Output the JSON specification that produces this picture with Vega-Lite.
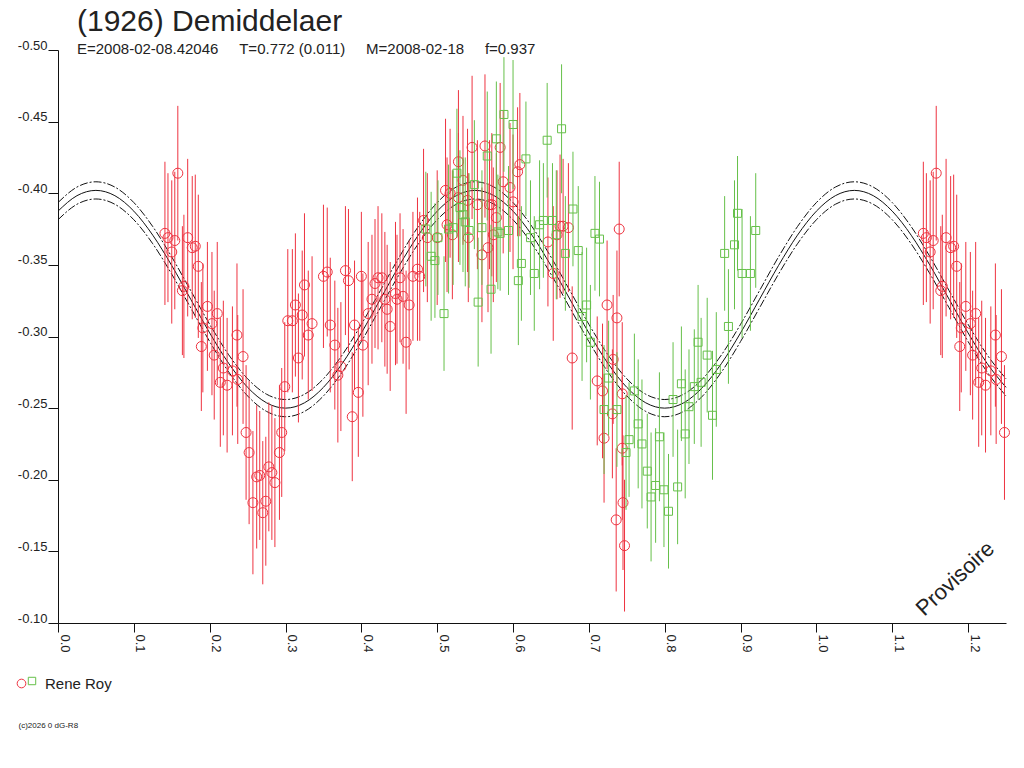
{
  "$schema": "https://vega.github.io/schema/vega-lite/v6.json",
  "autosize": "none",
  "width": 948,
  "height": 573,
  "padding": {"left": 58, "top": 50, "right": 18, "bottom": 145},
  "background": "white",
  "title": {
    "text": "(1926) Demiddelaer",
    "subtitle": "E=2008-02-08.42046\u00a0\u00a0\u00a0\u00a0\u00a0T=0.772 (0.011)\u00a0\u00a0\u00a0\u00a0\u00a0M=2008-02-18\u00a0\u00a0\u00a0\u00a0\u00a0f=0.937",
    "anchor": "start",
    "frame": "group",
    "dx": 19,
    "offset": -18,
    "font": "Liberation Sans",
    "fontSize": 30,
    "fontWeight": "normal",
    "color": "#222222",
    "subtitleFont": "Liberation Sans",
    "subtitleFontSize": 15,
    "subtitleColor": "#222222",
    "subtitlePadding": 5
  },
  "datasets": {
    "model": [
      {"p": 0.000, "c": -0.3875}, {"p": 0.025, "c": -0.3983}, {"p": 0.050, "c": -0.4020}, {"p": 0.075, "c": -0.3983},
      {"p": 0.100, "c": -0.3875}, {"p": 0.125, "c": -0.3707}, {"p": 0.150, "c": -0.3495}, {"p": 0.175, "c": -0.3260},
      {"p": 0.200, "c": -0.3025}, {"p": 0.225, "c": -0.2813}, {"p": 0.250, "c": -0.2645}, {"p": 0.275, "c": -0.2537},
      {"p": 0.300, "c": -0.2500}, {"p": 0.325, "c": -0.2537}, {"p": 0.350, "c": -0.2645}, {"p": 0.375, "c": -0.2813},
      {"p": 0.400, "c": -0.3025}, {"p": 0.425, "c": -0.3260}, {"p": 0.450, "c": -0.3495}, {"p": 0.475, "c": -0.3707},
      {"p": 0.500, "c": -0.3875}, {"p": 0.525, "c": -0.3983}, {"p": 0.550, "c": -0.4020}, {"p": 0.575, "c": -0.3983},
      {"p": 0.600, "c": -0.3875}, {"p": 0.625, "c": -0.3707}, {"p": 0.650, "c": -0.3495}, {"p": 0.675, "c": -0.3260},
      {"p": 0.700, "c": -0.3025}, {"p": 0.725, "c": -0.2813}, {"p": 0.750, "c": -0.2645}, {"p": 0.775, "c": -0.2537},
      {"p": 0.800, "c": -0.2500}, {"p": 0.825, "c": -0.2537}, {"p": 0.850, "c": -0.2645}, {"p": 0.875, "c": -0.2813},
      {"p": 0.900, "c": -0.3025}, {"p": 0.925, "c": -0.3260}, {"p": 0.950, "c": -0.3495}, {"p": 0.975, "c": -0.3707},
      {"p": 1.000, "c": -0.3875}, {"p": 1.025, "c": -0.3983}, {"p": 1.050, "c": -0.4020}, {"p": 1.075, "c": -0.3983},
      {"p": 1.100, "c": -0.3875}, {"p": 1.125, "c": -0.3707}, {"p": 1.150, "c": -0.3495}, {"p": 1.175, "c": -0.3260},
      {"p": 1.200, "c": -0.3025}, {"p": 1.225, "c": -0.2813}, {"p": 1.250, "c": -0.2645}
    ],
    "envelope": [
      {"p": 0.000, "u": -0.3935, "l": -0.3815}, {"p": 0.025, "u": -0.4043, "l": -0.3923}, {"p": 0.050, "u": -0.4080, "l": -0.3960}, {"p": 0.075, "u": -0.4043, "l": -0.3923},
      {"p": 0.100, "u": -0.3935, "l": -0.3815}, {"p": 0.125, "u": -0.3767, "l": -0.3647}, {"p": 0.150, "u": -0.3555, "l": -0.3435}, {"p": 0.175, "u": -0.3320, "l": -0.3200},
      {"p": 0.200, "u": -0.3085, "l": -0.2965}, {"p": 0.225, "u": -0.2873, "l": -0.2753}, {"p": 0.250, "u": -0.2705, "l": -0.2585}, {"p": 0.275, "u": -0.2597, "l": -0.2477},
      {"p": 0.300, "u": -0.2560, "l": -0.2440}, {"p": 0.325, "u": -0.2597, "l": -0.2477}, {"p": 0.350, "u": -0.2705, "l": -0.2585}, {"p": 0.375, "u": -0.2873, "l": -0.2753},
      {"p": 0.400, "u": -0.3085, "l": -0.2965}, {"p": 0.425, "u": -0.3320, "l": -0.3200}, {"p": 0.450, "u": -0.3555, "l": -0.3435}, {"p": 0.475, "u": -0.3767, "l": -0.3647},
      {"p": 0.500, "u": -0.3935, "l": -0.3815}, {"p": 0.525, "u": -0.4043, "l": -0.3923}, {"p": 0.550, "u": -0.4080, "l": -0.3960}, {"p": 0.575, "u": -0.4043, "l": -0.3923},
      {"p": 0.600, "u": -0.3935, "l": -0.3815}, {"p": 0.625, "u": -0.3767, "l": -0.3647}, {"p": 0.650, "u": -0.3555, "l": -0.3435}, {"p": 0.675, "u": -0.3320, "l": -0.3200},
      {"p": 0.700, "u": -0.3085, "l": -0.2965}, {"p": 0.725, "u": -0.2873, "l": -0.2753}, {"p": 0.750, "u": -0.2705, "l": -0.2585}, {"p": 0.775, "u": -0.2597, "l": -0.2477},
      {"p": 0.800, "u": -0.2560, "l": -0.2440}, {"p": 0.825, "u": -0.2597, "l": -0.2477}, {"p": 0.850, "u": -0.2705, "l": -0.2585}, {"p": 0.875, "u": -0.2873, "l": -0.2753},
      {"p": 0.900, "u": -0.3085, "l": -0.2965}, {"p": 0.925, "u": -0.3320, "l": -0.3200}, {"p": 0.950, "u": -0.3555, "l": -0.3435}, {"p": 0.975, "u": -0.3767, "l": -0.3647},
      {"p": 1.000, "u": -0.3935, "l": -0.3815}, {"p": 1.025, "u": -0.4043, "l": -0.3923}, {"p": 1.050, "u": -0.4080, "l": -0.3960}, {"p": 1.075, "u": -0.4043, "l": -0.3923},
      {"p": 1.100, "u": -0.3935, "l": -0.3815}, {"p": 1.125, "u": -0.3767, "l": -0.3647}, {"p": 1.150, "u": -0.3555, "l": -0.3435}, {"p": 1.175, "u": -0.3320, "l": -0.3200},
      {"p": 1.200, "u": -0.3085, "l": -0.2965}, {"p": 1.225, "u": -0.2873, "l": -0.2753}, {"p": 1.250, "u": -0.2705, "l": -0.2585}
    ],
    "red": [
      {"p": 0.158, "m": -0.414, "e": 0.047}, {"p": 0.141, "m": -0.372, "e": 0.050}, {"p": 0.145, "m": -0.369, "e": 0.045},
      {"p": 0.154, "m": -0.367, "e": 0.048}, {"p": 0.150, "m": -0.359, "e": 0.050}, {"p": 0.171, "m": -0.369, "e": 0.055},
      {"p": 0.177, "m": -0.362, "e": 0.050}, {"p": 0.181, "m": -0.363, "e": 0.050}, {"p": 0.185, "m": -0.349, "e": 0.050},
      {"p": 0.164, "m": -0.332, "e": 0.045}, {"p": 0.166, "m": -0.335, "e": 0.050}, {"p": 0.197, "m": -0.321, "e": 0.045},
      {"p": 0.210, "m": -0.316, "e": 0.050}, {"p": 0.191, "m": -0.306, "e": 0.045}, {"p": 0.203, "m": -0.309, "e": 0.050},
      {"p": 0.189, "m": -0.293, "e": 0.045}, {"p": 0.206, "m": -0.287, "e": 0.045}, {"p": 0.236, "m": -0.301, "e": 0.050},
      {"p": 0.218, "m": -0.278, "e": 0.047}, {"p": 0.230, "m": -0.276, "e": 0.045}, {"p": 0.244, "m": -0.286, "e": 0.047},
      {"p": 0.214, "m": -0.268, "e": 0.045}, {"p": 0.223, "m": -0.266, "e": 0.047}, {"p": 0.237, "m": -0.270, "e": 0.045},
      {"p": 0.299, "m": -0.265, "e": 0.045}, {"p": 0.248, "m": -0.233, "e": 0.047}, {"p": 0.252, "m": -0.219, "e": 0.050},
      {"p": 0.262, "m": -0.202, "e": 0.050}, {"p": 0.266, "m": -0.203, "e": 0.045}, {"p": 0.278, "m": -0.209, "e": 0.045},
      {"p": 0.282, "m": -0.205, "e": 0.047}, {"p": 0.286, "m": -0.198, "e": 0.045}, {"p": 0.257, "m": -0.184, "e": 0.050},
      {"p": 0.274, "m": -0.185, "e": 0.045}, {"p": 0.270, "m": -0.177, "e": 0.050}, {"p": 0.295, "m": -0.233, "e": 0.045},
      {"p": 0.292, "m": -0.219, "e": 0.047}, {"p": 0.303, "m": -0.311, "e": 0.050}, {"p": 0.309, "m": -0.311, "e": 0.050},
      {"p": 0.313, "m": -0.322, "e": 0.050}, {"p": 0.322, "m": -0.315, "e": 0.045}, {"p": 0.325, "m": -0.336, "e": 0.050},
      {"p": 0.335, "m": -0.309, "e": 0.047}, {"p": 0.330, "m": -0.301, "e": 0.045}, {"p": 0.317, "m": -0.285, "e": 0.045},
      {"p": 0.350, "m": -0.342, "e": 0.050}, {"p": 0.355, "m": -0.345, "e": 0.045}, {"p": 0.359, "m": -0.308, "e": 0.047},
      {"p": 0.379, "m": -0.346, "e": 0.045}, {"p": 0.383, "m": -0.339, "e": 0.050}, {"p": 0.400, "m": -0.342, "e": 0.045},
      {"p": 0.365, "m": -0.294, "e": 0.045}, {"p": 0.391, "m": -0.308, "e": 0.045}, {"p": 0.402, "m": -0.294, "e": 0.050},
      {"p": 0.373, "m": -0.279, "e": 0.045}, {"p": 0.369, "m": -0.273, "e": 0.047}, {"p": 0.396, "m": -0.261, "e": 0.045},
      {"p": 0.388, "m": -0.244, "e": 0.045}, {"p": 0.414, "m": -0.326, "e": 0.045}, {"p": 0.409, "m": -0.316, "e": 0.050},
      {"p": 0.418, "m": -0.337, "e": 0.045}, {"p": 0.422, "m": -0.341, "e": 0.050}, {"p": 0.427, "m": -0.341, "e": 0.045},
      {"p": 0.431, "m": -0.326, "e": 0.047}, {"p": 0.434, "m": -0.319, "e": 0.045}, {"p": 0.438, "m": -0.307, "e": 0.045},
      {"p": 0.445, "m": -0.330, "e": 0.050}, {"p": 0.447, "m": -0.326, "e": 0.045}, {"p": 0.451, "m": -0.341, "e": 0.045},
      {"p": 0.455, "m": -0.328, "e": 0.047}, {"p": 0.463, "m": -0.322, "e": 0.045}, {"p": 0.459, "m": -0.296, "e": 0.050},
      {"p": 0.468, "m": -0.342, "e": 0.045}, {"p": 0.474, "m": -0.347, "e": 0.050}, {"p": 0.477, "m": -0.342, "e": 0.045},
      {"p": 0.482, "m": -0.381, "e": 0.050}, {"p": 0.487, "m": -0.369, "e": 0.045}, {"p": 0.500, "m": -0.369, "e": 0.047},
      {"p": 0.511, "m": -0.402, "e": 0.050}, {"p": 0.517, "m": -0.400, "e": 0.045}, {"p": 0.528, "m": -0.422, "e": 0.050},
      {"p": 0.534, "m": -0.409, "e": 0.045}, {"p": 0.546, "m": -0.432, "e": 0.050}, {"p": 0.563, "m": -0.433, "e": 0.050},
      {"p": 0.553, "m": -0.392, "e": 0.045}, {"p": 0.559, "m": -0.357, "e": 0.047}, {"p": 0.567, "m": -0.362, "e": 0.045},
      {"p": 0.572, "m": -0.392, "e": 0.050}, {"p": 0.578, "m": -0.383, "e": 0.045}, {"p": 0.574, "m": -0.371, "e": 0.047},
      {"p": 0.541, "m": -0.369, "e": 0.045}, {"p": 0.528, "m": -0.397, "e": 0.045}, {"p": 0.513, "m": -0.378, "e": 0.047},
      {"p": 0.520, "m": -0.371, "e": 0.045}, {"p": 0.540, "m": -0.395, "e": 0.050}, {"p": 0.583, "m": -0.432, "e": 0.045},
      {"p": 0.609, "m": -0.420, "e": 0.050}, {"p": 0.606, "m": -0.415, "e": 0.045}, {"p": 0.587, "m": -0.408, "e": 0.050},
      {"p": 0.596, "m": -0.404, "e": 0.045}, {"p": 0.600, "m": -0.394, "e": 0.047}, {"p": 0.569, "m": -0.392, "e": 0.045},
      {"p": 0.646, "m": -0.366, "e": 0.045}, {"p": 0.662, "m": -0.377, "e": 0.050}, {"p": 0.666, "m": -0.377, "e": 0.047},
      {"p": 0.673, "m": -0.376, "e": 0.045}, {"p": 0.658, "m": -0.371, "e": 0.045}, {"p": 0.653, "m": -0.344, "e": 0.047},
      {"p": 0.740, "m": -0.375, "e": 0.047}, {"p": 0.724, "m": -0.322, "e": 0.045}, {"p": 0.737, "m": -0.313, "e": 0.047},
      {"p": 0.678, "m": -0.285, "e": 0.050}, {"p": 0.711, "m": -0.269, "e": 0.045}, {"p": 0.718, "m": -0.262, "e": 0.047},
      {"p": 0.731, "m": -0.246, "e": 0.045}, {"p": 0.744, "m": -0.260, "e": 0.050}, {"p": 0.720, "m": -0.229, "e": 0.045},
      {"p": 0.744, "m": -0.222, "e": 0.050}, {"p": 0.745, "m": -0.184, "e": 0.047}, {"p": 0.736, "m": -0.172, "e": 0.050},
      {"p": 0.747, "m": -0.154, "e": 0.046}, {"p": 0.732, "m": -0.284, "e": 0.045},
      {"p": 1.158, "m": -0.414, "e": 0.047}, {"p": 1.141, "m": -0.372, "e": 0.050}, {"p": 1.145, "m": -0.369, "e": 0.045},
      {"p": 1.154, "m": -0.367, "e": 0.048}, {"p": 1.150, "m": -0.359, "e": 0.050}, {"p": 1.171, "m": -0.369, "e": 0.055},
      {"p": 1.177, "m": -0.362, "e": 0.050}, {"p": 1.181, "m": -0.363, "e": 0.050}, {"p": 1.185, "m": -0.349, "e": 0.050},
      {"p": 1.164, "m": -0.332, "e": 0.045}, {"p": 1.166, "m": -0.335, "e": 0.050}, {"p": 1.197, "m": -0.321, "e": 0.045},
      {"p": 1.210, "m": -0.316, "e": 0.050}, {"p": 1.191, "m": -0.306, "e": 0.045}, {"p": 1.203, "m": -0.309, "e": 0.050},
      {"p": 1.189, "m": -0.293, "e": 0.045}, {"p": 1.206, "m": -0.287, "e": 0.045}, {"p": 1.236, "m": -0.301, "e": 0.050},
      {"p": 1.218, "m": -0.278, "e": 0.047}, {"p": 1.230, "m": -0.276, "e": 0.045}, {"p": 1.244, "m": -0.286, "e": 0.047},
      {"p": 1.214, "m": -0.268, "e": 0.045}, {"p": 1.223, "m": -0.266, "e": 0.047}, {"p": 1.237, "m": -0.270, "e": 0.045},
      {"p": 1.248, "m": -0.233, "e": 0.047}
    ],
    "green": [
      {"p": 0.485, "m": -0.375, "e": 0.040}, {"p": 0.492, "m": -0.356, "e": 0.045}, {"p": 0.497, "m": -0.353, "e": 0.040},
      {"p": 0.501, "m": -0.369, "e": 0.040}, {"p": 0.509, "m": -0.316, "e": 0.040}, {"p": 0.515, "m": -0.375, "e": 0.045},
      {"p": 0.521, "m": -0.376, "e": 0.040}, {"p": 0.526, "m": -0.414, "e": 0.045}, {"p": 0.530, "m": -0.390, "e": 0.040},
      {"p": 0.534, "m": -0.385, "e": 0.040}, {"p": 0.537, "m": -0.380, "e": 0.045}, {"p": 0.542, "m": -0.374, "e": 0.040},
      {"p": 0.549, "m": -0.406, "e": 0.045}, {"p": 0.554, "m": -0.324, "e": 0.045}, {"p": 0.559, "m": -0.376, "e": 0.040},
      {"p": 0.566, "m": -0.426, "e": 0.045}, {"p": 0.578, "m": -0.438, "e": 0.040}, {"p": 0.571, "m": -0.333, "e": 0.045},
      {"p": 0.580, "m": -0.373, "e": 0.040}, {"p": 0.588, "m": -0.455, "e": 0.040}, {"p": 0.600, "m": -0.448, "e": 0.045},
      {"p": 0.617, "m": -0.424, "e": 0.040}, {"p": 0.645, "m": -0.437, "e": 0.040}, {"p": 0.664, "m": -0.445, "e": 0.045},
      {"p": 0.583, "m": -0.372, "e": 0.040}, {"p": 0.594, "m": -0.374, "e": 0.045}, {"p": 0.611, "m": -0.351, "e": 0.040},
      {"p": 0.607, "m": -0.339, "e": 0.045}, {"p": 0.623, "m": -0.369, "e": 0.040}, {"p": 0.628, "m": -0.344, "e": 0.040},
      {"p": 0.635, "m": -0.378, "e": 0.045}, {"p": 0.640, "m": -0.381, "e": 0.040}, {"p": 0.652, "m": -0.381, "e": 0.040},
      {"p": 0.657, "m": -0.371, "e": 0.045}, {"p": 0.669, "m": -0.358, "e": 0.040}, {"p": 0.679, "m": -0.389, "e": 0.040},
      {"p": 0.686, "m": -0.360, "e": 0.045}, {"p": 0.708, "m": -0.372, "e": 0.040}, {"p": 0.714, "m": -0.368, "e": 0.040},
      {"p": 0.697, "m": -0.322, "e": 0.040}, {"p": 0.691, "m": -0.314, "e": 0.045}, {"p": 0.702, "m": -0.296, "e": 0.040},
      {"p": 0.726, "m": -0.271, "e": 0.040}, {"p": 0.720, "m": -0.249, "e": 0.045}, {"p": 0.737, "m": -0.249, "e": 0.040},
      {"p": 0.760, "m": -0.262, "e": 0.040}, {"p": 0.765, "m": -0.239, "e": 0.045}, {"p": 0.753, "m": -0.228, "e": 0.040},
      {"p": 0.749, "m": -0.219, "e": 0.040}, {"p": 0.770, "m": -0.225, "e": 0.045}, {"p": 0.777, "m": -0.206, "e": 0.040},
      {"p": 0.788, "m": -0.196, "e": 0.040}, {"p": 0.782, "m": -0.188, "e": 0.045}, {"p": 0.799, "m": -0.193, "e": 0.040},
      {"p": 0.805, "m": -0.178, "e": 0.040}, {"p": 0.817, "m": -0.195, "e": 0.040}, {"p": 0.793, "m": -0.230, "e": 0.045},
      {"p": 0.811, "m": -0.256, "e": 0.040}, {"p": 0.822, "m": -0.267, "e": 0.040}, {"p": 0.827, "m": -0.232, "e": 0.045},
      {"p": 0.832, "m": -0.251, "e": 0.040}, {"p": 0.839, "m": -0.265, "e": 0.040}, {"p": 0.848, "m": -0.268, "e": 0.045},
      {"p": 0.844, "m": -0.296, "e": 0.040}, {"p": 0.856, "m": -0.287, "e": 0.040}, {"p": 0.863, "m": -0.245, "e": 0.045},
      {"p": 0.868, "m": -0.277, "e": 0.040}, {"p": 0.884, "m": -0.307, "e": 0.040}, {"p": 0.902, "m": -0.344, "e": 0.045},
      {"p": 0.913, "m": -0.344, "e": 0.040}, {"p": 0.896, "m": -0.386, "e": 0.040}, {"p": 0.920, "m": -0.374, "e": 0.040},
      {"p": 0.892, "m": -0.364, "e": 0.045}, {"p": 0.879, "m": -0.358, "e": 0.040}
    ]
  },
  "layer": [
    {
      "data": {"name": "model"},
      "mark": {"type": "line", "color": "#111111", "strokeWidth": 1, "interpolate": "monotone"},
      "encoding": {
        "x": {
          "field": "p",
          "type": "quantitative",
          "scale": {"domain": [0, 1.25], "nice": false, "zero": false},
          "axis": {
            "title": "(c)2026 0 dG-R8",
            "titleFont": "Liberation Sans",
            "titleFontSize": 8,
            "titleFontWeight": "normal",
            "titleColor": "#222222",
            "titleAlign": "left",
            "titleBaseline": "middle",
            "titleX": -40,
            "titleY": 102,
            "values": [0, 0.05, 0.1, 0.15, 0.2, 0.25, 0.3, 0.35, 0.4, 0.45, 0.5, 0.55, 0.6, 0.65, 0.7, 0.75, 0.8, 0.85, 0.9, 0.95, 1.0, 1.05, 1.1, 1.15, 1.2, 1.25],
            "labelExpr": "round(datum.value * 20) % 2 == 0 ? format(datum.value, '.1f') : ''",
            "labelAngle": 90,
            "labelOffset": 6,
            "labelPadding": 2,
            "tickSize": 9
          }
        },
        "y": {
          "field": "c",
          "type": "quantitative",
          "scale": {"domain": [-0.5, -0.1], "nice": false, "zero": false, "reverse": true},
          "axis": {
            "title": null,
            "values": [-0.5, -0.45, -0.4, -0.35, -0.3, -0.25, -0.2, -0.15, -0.1],
            "labelExpr": "'-' + format(abs(datum.value), '.2f')",
            "labelBaseline": "alphabetic",
            "labelOffset": -1,
            "labelPadding": 1,
            "tickSize": 10
          }
        }
      }
    },
    {
      "data": {"name": "envelope"},
      "mark": {"type": "line", "color": "#111111", "strokeWidth": 1, "strokeDash": [8, 2, 2, 2], "interpolate": "monotone"},
      "encoding": {
        "x": {"field": "p", "type": "quantitative"},
        "y": {"field": "u", "type": "quantitative"}
      }
    },
    {
      "data": {"name": "envelope"},
      "mark": {"type": "line", "color": "#111111", "strokeWidth": 1, "strokeDash": [8, 2, 2, 2], "interpolate": "monotone"},
      "encoding": {
        "x": {"field": "p", "type": "quantitative"},
        "y": {"field": "l", "type": "quantitative"}
      }
    },
    {
      "data": {"name": "red"},
      "mark": {"type": "errorbar", "color": "#ee3340", "thickness": 1},
      "encoding": {
        "x": {"field": "p", "type": "quantitative"},
        "y": {"field": "m", "type": "quantitative"},
        "yError": {"field": "e"}
      }
    },
    {
      "data": {"name": "red"},
      "mark": {"type": "point", "shape": "circle", "filled": false, "size": 100, "strokeWidth": 1, "opacity": 1},
      "encoding": {
        "x": {"field": "p", "type": "quantitative"},
        "y": {"field": "m", "type": "quantitative"},
        "stroke": {
          "datum": "Rene Roy",
          "type": "nominal",
          "scale": {"range": ["#ee3340"]},
          "legend": {
            "orient": "none",
            "legendX": -44,
            "legendY": 626,
            "title": null,
            "padding": 0,
            "symbolType": "circle",
            "symbolSize": 75,
            "symbolStrokeWidth": 1,
            "symbolFillColor": "transparent",
            "labelFont": "Liberation Sans",
            "labelFontSize": 15,
            "labelColor": "#222222",
            "labelOffset": 16
          }
        }
      }
    },
    {
      "data": {"name": "green"},
      "mark": {"type": "errorbar", "color": "#66c04a", "thickness": 1},
      "encoding": {
        "x": {"field": "p", "type": "quantitative"},
        "y": {"field": "m", "type": "quantitative"},
        "yError": {"field": "e"}
      }
    },
    {
      "data": {"name": "green"},
      "mark": {"type": "point", "filled": false, "size": 64, "strokeWidth": 1, "color": "#66c04a", "opacity": 1},
      "encoding": {
        "x": {"field": "p", "type": "quantitative"},
        "y": {"field": "m", "type": "quantitative"},
        "shape": {
          "datum": "session 2",
          "type": "nominal",
          "scale": {"range": ["square"]},
          "legend": {
            "orient": "none",
            "legendX": -31,
            "legendY": 626,
            "title": null,
            "padding": 0,
            "symbolSize": 55,
            "symbolStrokeWidth": 1,
            "symbolStrokeColor": "#66c04a",
            "symbolFillColor": "transparent",
            "labelExpr": "''"
          }
        }
      }
    },
    {
      "data": {"values": [{"t": "Provisoire"}]},
      "mark": {"type": "text", "angle": -43, "font": "Liberation Sans", "fontSize": 22, "color": "#222222"},
      "encoding": {
        "x": {"datum": 1.183, "type": "quantitative"},
        "y": {"datum": -0.131, "type": "quantitative"},
        "text": {"field": "t"}
      }
    }
  ],
  "config": {
    "view": {"stroke": null},
    "axis": {
      "grid": false,
      "domainColor": "#111111",
      "tickColor": "#111111",
      "labelFont": "Liberation Sans",
      "labelFontSize": 13,
      "labelColor": "#222222"
    }
  }
}
